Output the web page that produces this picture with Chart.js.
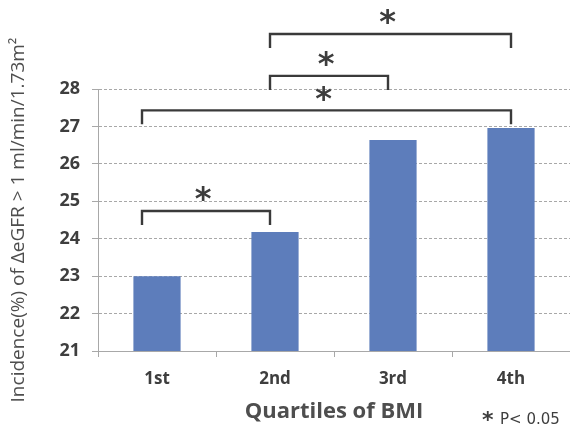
<!DOCTYPE html>
<html>
<head>
<meta charset="utf-8">
<script src="https://cdn.jsdelivr.net/npm/chart.js@4/dist/chart.umd.min.js"></script>
<style>
  html, body { margin: 0; padding: 0; background: #ffffff; }
  #wrap { width: 570px; height: 425px; }
</style>
</head>
<body>
<div id="wrap"><canvas id="chart" width="570" height="425"></canvas></div>
<script>
// BMI quartiles and the incidence of eGFR decline in each
const categories = ['1st', '2nd', '3rd', '4th'];
const incidence = [23.0, 24.18, 26.64, 26.96];

// y-axis range
const yMin = 21;
const yMax = 28;

// significance brackets: from quartile, to quartile, bracket height (in %)
const bracketFrom = [0, 0, 1, 1];
const bracketTo = [1, 3, 2, 3];
const bracketLevel = [24.74, 27.43, 28.35, 29.47];

const textColor = '#3e3e3e';
const titleColor = '#4e4e4e';
const gridColor = '#a8a8a8';
const barColor = '#5d7dbb';

// draws the significance brackets with their asterisks and the p-value note
const bracketPlugin = {
  id: 'brackets',
  afterDatasetsDraw(chart) {
    const { ctx, scales: { x, y } } = chart;
    // end points sit a little left of each bar's centre
    const shift = (i) => (i === 0 ? -15 : i === 3 ? 0 : -5);
    ctx.save();
    ctx.strokeStyle = '#3a3a3a';
    ctx.lineWidth = 2.4;
    ctx.lineCap = 'butt';
    for (let k = 0; k < bracketFrom.length; k++) {
      const x1 = x.getPixelForValue(bracketFrom[k]) + shift(bracketFrom[k]);
      const x2 = x.getPixelForValue(bracketTo[k]) + shift(bracketTo[k]);
      const yy = y.getPixelForValue(bracketLevel[k]);
      const drop = 14;
      ctx.beginPath();
      ctx.moveTo(x1, yy + drop);
      ctx.lineTo(x1, yy);
      ctx.lineTo(x2, yy);
      ctx.lineTo(x2, yy + drop);
      ctx.stroke();
      // asterisk above the bracket
      ctx.fillStyle = '#3d3d3d';
      ctx.font = 'bold 32px "DejaVu Sans"';
      ctx.textAlign = 'center';
      ctx.textBaseline = 'middle';
      ctx.fillText('*', (x1 + x2) / 2 - 3, yy - 10);
    }
    // footnote
    ctx.fillStyle = textColor;
    ctx.textAlign = 'left';
    ctx.textBaseline = 'alphabetic';
    ctx.font = 'bold 22px "DejaVu Sans"';
    ctx.fillText('*', 482, 427);
    ctx.font = '15px "DejaVu Sans"';
    ctx.fillText('P< 0.05', 500, 424);
    ctx.restore();
  }
};

new Chart(document.getElementById('chart'), {
  type: 'bar',
  data: {
    labels: categories,
    datasets: [{
      data: incidence,
      backgroundColor: barColor,
      borderWidth: 0,
      barPercentage: 0.4,
      categoryPercentage: 1.0
    }]
  },
  options: {
    responsive: false,
    animation: false,
    layout: { padding: { top: 89, right: 0, left: 0, bottom: 0 } },
    plugins: {
      legend: { display: false },
      tooltip: { enabled: false }
    },
    scales: {
      y: {
        min: yMin,
        max: yMax,
        afterFit(scale) { scale.width = 98; },
        ticks: {
          stepSize: 1,
          padding: 12,
          color: textColor,
          font: { family: '"Open Sans"', size: 18, weight: 'bold' }
        },
        grid: {
          color: gridColor,
          lineWidth: 1,
          tickLength: 6,
          drawTicks: true
        },
        border: { display: true, color: gridColor, dash: [3, 2] },
        title: {
          display: true,
          text: 'Incidence(%) of \u0394eGFR > 1 ml/min/1.73m\u00b2',
          color: titleColor,
          font: { family: '"Open Sans"', size: 19 },
          padding: { top: 7, bottom: 0 }
        }
      },
      x: {
        afterFit(scale) { scale.height = 74; },
        ticks: {
          padding: 12,
          color: textColor,
          font: { family: '"Open Sans"', size: 17, weight: 'bold' }
        },
        grid: {
          drawOnChartArea: false,
          drawTicks: true,
          tickLength: 6,
          color: gridColor
        },
        border: { display: true, color: gridColor, dash: [3, 2] },
        title: {
          display: true,
          text: 'Quartiles of BMI',
          color: titleColor,
          font: { family: '"Open Sans"', size: 22, weight: 'bold' },
          padding: { top: 0, bottom: 0 }
        }
      }
    }
  },
  plugins: [bracketPlugin]
});
</script>
</body>
</html>
